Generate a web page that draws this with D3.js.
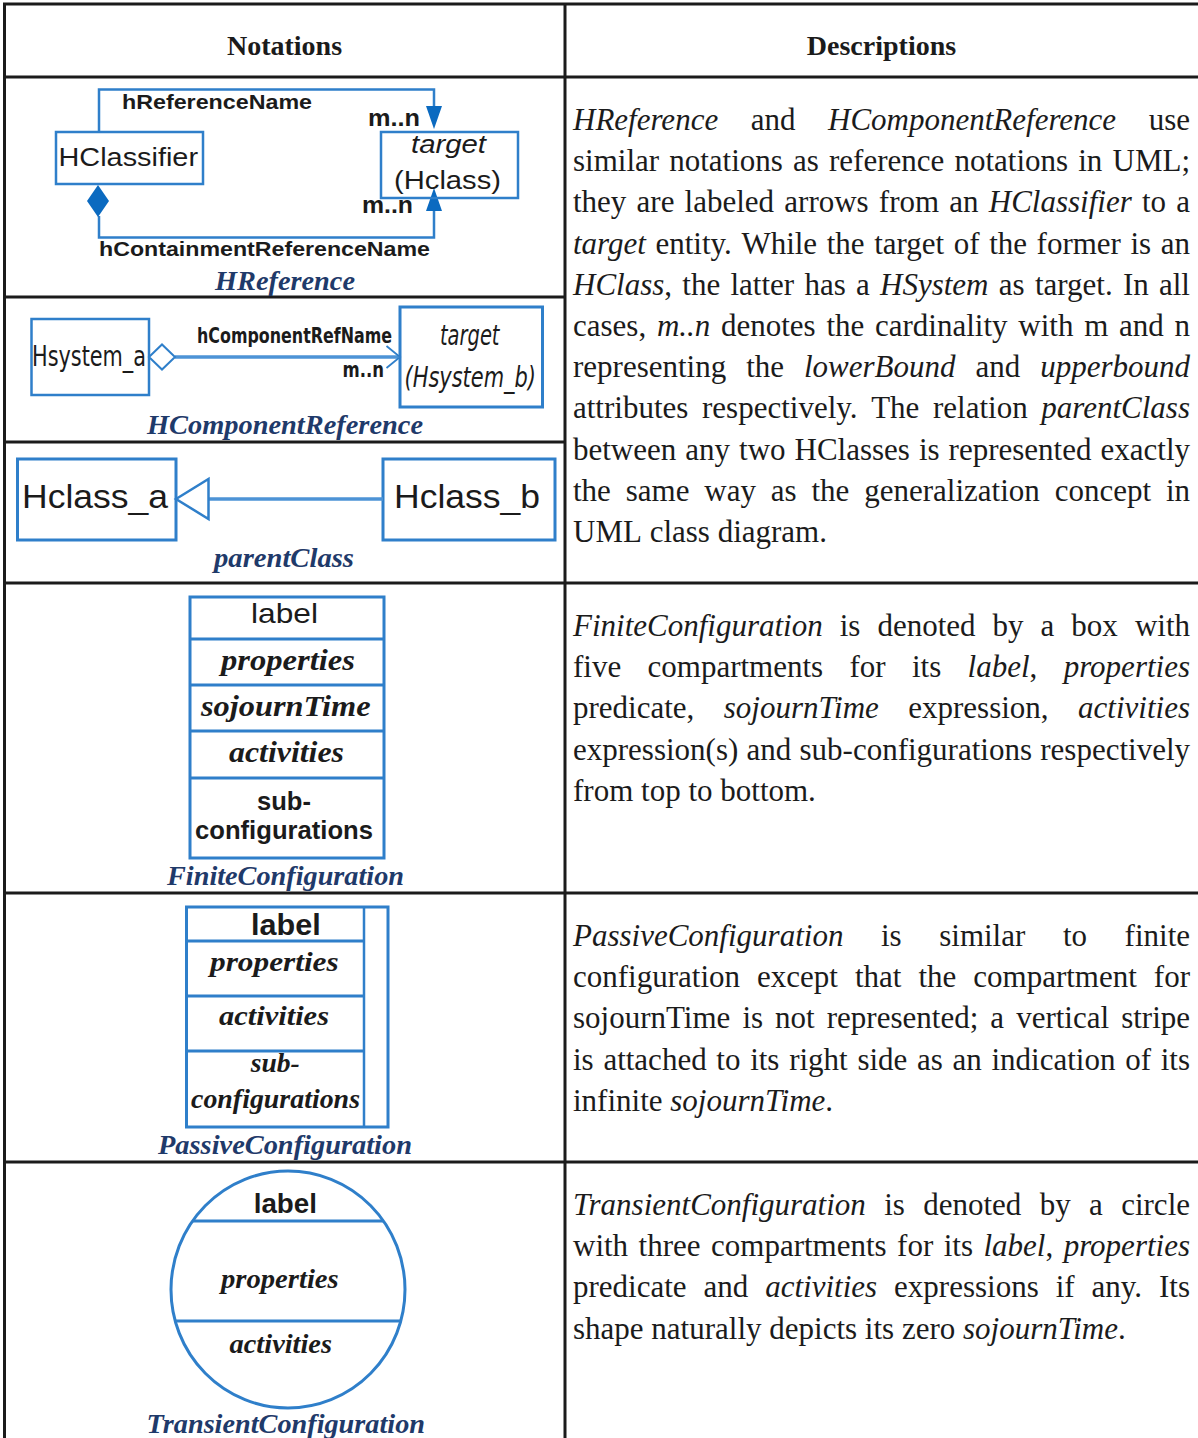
<!DOCTYPE html>
<html>
<head>
<meta charset="utf-8">
<script src="https://cdn.jsdelivr.net/npm/d3@7"></script>
<style>
html, body { margin: 0; padding: 0; background: #fff; }
svg { display: block; }
</style>
</head>
<body>
<svg id="chart" width="1198" height="1438"></svg>
<script>
'use strict';

// table content
let headers = ['Notations', 'Descriptions'];
let captions = ['HReference', 'HComponentReference', 'parentClass',
	'FiniteConfiguration', 'PassiveConfiguration', 'TransientConfiguration'];

let refLabels = ['hReferenceName', 'm..n', 'HClassifier', 'target', '(Hclass)', 'm..n', 'hContainmentReferenceName'];
let compLabels = ['hComponentRefName', 'm..n', 'Hsystem_a', 'target', '(Hsystem_b)'];
let parentLabels = ['Hclass_a', 'Hclass_b'];
let finiteParts = ['label', 'properties', 'sojournTime', 'activities', 'sub-', 'configurations'];
let passiveParts = ['label', 'properties', 'activities', 'sub-', 'configurations'];
let transientParts = ['label', 'properties', 'activities'];

// *word* = italic
let descRef = [
	'*HReference* and *HComponentReference* use',
	'similar notations as reference notations in UML;',
	'they are labeled arrows from an *HClassifier* to a',
	'*target* entity. While the target of the former is an',
	'*HClass*, the latter has a *HSystem* as target. In all',
	'cases, *m..n* denotes the cardinality with m and n',
	'representing the *lowerBound* and *upperbound*',
	'attributes respectively. The relation *parentClass*',
	'between any two HClasses is represented exactly',
	'the same way as the generalization concept in',
	'UML class diagram.',
];
let descFinite = [
	'*FiniteConfiguration* is denoted by a box with',
	'five compartments for its *label*, *properties*',
	'predicate, *sojournTime* expression, *activities*',
	'expression(s) and sub-configurations respectively',
	'from top to bottom.',
];
let descPassive = [
	'*PassiveConfiguration* is similar to finite',
	'configuration except that the compartment for',
	'sojournTime is not represented; a vertical stripe',
	'is attached to its right side as an indication of its',
	'infinite *sojournTime*.',
];
let descTransient = [
	'*TransientConfiguration* is denoted by a circle',
	'with three compartments for its *label*, *properties*',
	'predicate and *activities* expressions if any. Its',
	'shape naturally depicts its zero *sojournTime*.',
];

const SANS = '"Liberation Sans", Arial, sans-serif';
const NARROW = '"Liberation Sans Narrow", "DejaVu Sans Condensed", "Liberation Sans", sans-serif';
const SERIF = '"Liberation Serif", "Times New Roman", serif';
const INK = '#1b1b1b';
const BLUE = '#2f7fca';
const DARKBLUE = '#0b6ac0';
const NAVY = '#1f3a6a';
const COL = 565;

let svg = d3.select('#chart');
let line = d3.line();

// ---------- grid ----------
let grid = svg.append('g').attr('stroke', INK).attr('stroke-width', 3).attr('fill', 'none');
[4, 77, 583, 893, 1162].forEach(function(y) {
	grid.append('path').attr('d', line([[3, y], [1198, y]]));
});
[297, 442].forEach(function(y) {
	grid.append('path').attr('d', line([[3, y], [COL, y]]));
});
[4.5, COL].forEach(function(x) {
	grid.append('path').attr('d', line([[x, 3], [x, 1438]]));
});

// headers
svg.selectAll('text.hdr')
	.data(headers)
	.enter().append('text')
		.classed('hdr', true)
		.attr('x', (d, i) => i == 0 ? 284.5 : 881.5)
		.attr('y', 55)
		.attr('text-anchor', 'middle')
		.style('font-family', SERIF)
		.style('font-weight', 'bold')
		.style('font-size', '28px')
		.style('fill', INK)
		.text(d => d);

// ---------- helpers ----------
function label(g, s, x0, x1, y, size, weight, italic, family) {
	return g.append('text')
		.attr('x', x0)
		.attr('y', y)
		.attr('textLength', x1 - x0)
		.attr('lengthAdjust', 'spacingAndGlyphs')
		.style('font-family', family || SANS)
		.style('font-size', size + 'px')
		.style('font-weight', weight || 'normal')
		.style('font-style', italic ? 'italic' : 'normal')
		.style('fill', INK)
		.text(s);
}

function box(g, x0, y0, x1, y1, w) {
	return g.append('rect')
		.attr('x', x0).attr('y', y0)
		.attr('width', x1 - x0).attr('height', y1 - y0)
		.attr('fill', 'none')
		.attr('stroke', BLUE)
		.attr('stroke-width', w || 3);
}

function stroke(g, pts, w, col) {
	return g.append('path')
		.attr('d', line(pts))
		.attr('fill', 'none')
		.attr('stroke', col || BLUE)
		.attr('stroke-width', w || 3);
}

function caption(i, x0, x1, y) {
	label(svg, captions[i], x0, x1, y, 27, 'bold', true, SERIF).style('fill', NAVY);
}

// ---------- HReference ----------
let gRef = svg.append('g');
stroke(gRef, [[99, 132], [99, 89.5], [434, 89.5], [434, 108]], 2.5);
stroke(gRef, [[99, 216], [99, 237.5], [434, 237.5], [434, 210]], 2.5);
gRef.append('path').attr('d', line([[426, 106], [442, 106], [434, 129]]) + 'Z').attr('fill', DARKBLUE);
gRef.append('path').attr('d', line([[426, 211], [442, 211], [434, 188]]) + 'Z').attr('fill', DARKBLUE);
gRef.append('path').attr('d', line([[98, 185], [109, 201], [98, 217], [87, 201]]) + 'Z').attr('fill', DARKBLUE);
box(gRef, 56, 132, 203, 184, 2.5);
box(gRef, 381, 132, 518, 198, 2.5);
label(gRef, refLabels[0], 122, 312, 109, 20, 'bold');
label(gRef, refLabels[1], 368, 420, 126, 24, 'bold');
label(gRef, refLabels[2], 58.5, 198, 165.5, 26);
label(gRef, refLabels[3], 411, 486, 153, 26, 'normal', true);
label(gRef, refLabels[4], 394, 501, 189, 26);
label(gRef, refLabels[5], 362, 413, 213, 24, 'bold');
label(gRef, refLabels[6], 99, 430, 256, 21, 'bold');
caption(0, 215, 355, 290);

// ---------- HComponentReference ----------
let gComp = svg.append('g');
box(gComp, 31.5, 319, 149, 395, 2.5);
box(gComp, 400, 307, 542.5, 407, 3);
stroke(gComp, [[175, 357], [398, 357]], 3.5, '#4d93d6');
gComp.append('path').attr('d', line([[149, 357], [162, 344.5], [175, 357], [162, 369.5]]) + 'Z')
	.attr('fill', '#fff').attr('stroke', BLUE).attr('stroke-width', 2);
stroke(gComp, [[386.5, 346], [400, 357], [386.5, 368]], 1.8);
label(gComp, compLabels[0], 197, 392, 343, 21, 'bold', false, NARROW);
label(gComp, compLabels[1], 342.5, 384, 377, 22, 'bold', false, NARROW);
label(gComp, compLabels[2], 32, 146, 366, 28, 'normal', false, NARROW);
label(gComp, compLabels[3], 440, 499.5, 345, 28, 'normal', true, NARROW);
label(gComp, compLabels[4], 404.5, 536, 387, 28, 'normal', true, NARROW);
caption(1, 147, 423, 434);

// ---------- parentClass ----------
let gPar = svg.append('g');
box(gPar, 17.5, 459, 176, 540, 3);
box(gPar, 383, 459, 555, 540, 3);
stroke(gPar, [[208.5, 499], [383, 499]], 3.5, '#4d93d6');
gPar.append('path').attr('d', line([[176, 499], [208.5, 479], [208.5, 519]]) + 'Z')
	.attr('fill', '#fff').attr('stroke', BLUE).attr('stroke-width', 2.5);
label(gPar, parentLabels[0], 22, 168, 508, 34);
label(gPar, parentLabels[1], 394, 540, 508, 34);
caption(2, 214, 354, 567);

// ---------- FiniteConfiguration ----------
let gFin = svg.append('g');
box(gFin, 190, 597, 384, 858, 3);
[639, 685, 731, 778].forEach(function(y) {
	stroke(gFin, [[190, y], [384, y]], 3);
});
label(gFin, finiteParts[0], 251, 318, 623, 28);
label(gFin, finiteParts[1], 221, 355, 670, 29, 'bold', true, SERIF);
label(gFin, finiteParts[2], 201, 370.5, 716, 29, 'bold', true, SERIF);
label(gFin, finiteParts[3], 229, 344, 762, 29, 'bold', true, SERIF);
label(gFin, finiteParts[4], 257, 311, 810, 26, 'bold');
label(gFin, finiteParts[5], 195, 373, 839, 26, 'bold');
caption(3, 167, 404, 885);

// ---------- PassiveConfiguration ----------
let gPas = svg.append('g');
box(gPas, 186.5, 907, 388, 1127, 3);
stroke(gPas, [[364, 907], [364, 1127]], 2.5);
[941, 996, 1051].forEach(function(y) {
	stroke(gPas, [[186.5, y], [364, y]], 3);
});
label(gPas, passiveParts[0], 251, 320.7, 935, 30, 'bold');
label(gPas, passiveParts[1], 210, 338.7, 971, 28, 'bold', true, SERIF);
label(gPas, passiveParts[2], 219, 329, 1025, 28, 'bold', true, SERIF);
label(gPas, passiveParts[3], 250.7, 299.7, 1072, 28, 'bold', true, SERIF);
label(gPas, passiveParts[4], 191, 360, 1108, 28, 'bold', true, SERIF);
caption(4, 158, 412, 1154);

// ---------- TransientConfiguration ----------
let gTr = svg.append('g');
let cx = 288, cy = 1289.5, rx = 117, ry = 118.5;
gTr.append('ellipse')
	.attr('cx', cx).attr('cy', cy).attr('rx', rx).attr('ry', ry)
	.attr('fill', 'none').attr('stroke', BLUE).attr('stroke-width', 3);
[1221, 1321].forEach(function(y) {
	let dy = (y - cy) / ry;
	let hw = rx * Math.sqrt(1 - dy*dy);
	stroke(gTr, [[cx - hw, y], [cx + hw, y]], 3);
});
label(gTr, transientParts[0], 253.7, 317, 1213, 27, 'bold');
label(gTr, transientParts[1], 221, 338.7, 1288, 27, 'bold', true, SERIF);
label(gTr, transientParts[2], 229.6, 332, 1353, 27, 'bold', true, SERIF);
caption(5, 146.6, 425, 1433);

// ---------- descriptions (justified) ----------
function para(lines, y0) {
	let x0 = 573, x1 = 1190, lh = 41.2;
	let g = svg.append('g')
		.style('font-family', SERIF)
		.style('font-size', '31px')
		.style('fill', INK);
	for (let i=0 ; i<lines.length ; ++i) {
		let y = y0 + i*lh;
		let words = lines[i].split(' ');
		let nodes = [];
		for (let w of words) {
			let t = g.append('text').attr('y', y);
			let pieces = w.split(/(\*[^*]+\*)/).filter(p => p.length);
			for (let p of pieces) {
				let it = p[0] == '*';
				t.append('tspan')
					.style('font-style', it ? 'italic' : 'normal')
					.text(it ? p.substring(1, p.length - 1) : p);
			}
			nodes.push(t);
		}
		let widths = nodes.map(n => n.node().getComputedTextLength());
		let total = d3.sum(widths);
		let gap = 7.75;
		if (i < lines.length - 1 && nodes.length > 1) {
			gap = (x1 - x0 - total) / (nodes.length - 1);
		}
		let x = x0;
		for (let j=0 ; j<nodes.length ; ++j) {
			nodes[j].attr('x', x);
			x += widths[j] + gap;
		}
	}
}

para(descRef, 130);
para(descFinite, 636);
para(descPassive, 946);
para(descTransient, 1215);
</script>
</body>
</html>
